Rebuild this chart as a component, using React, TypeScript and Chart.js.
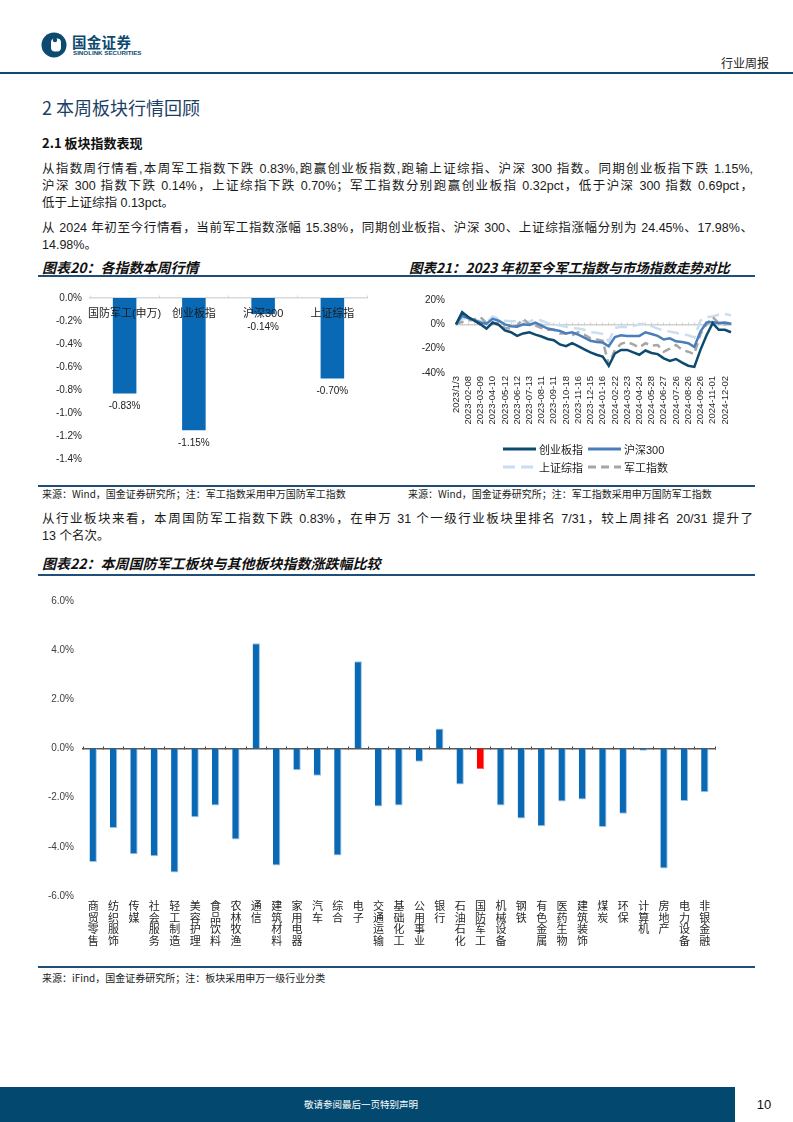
import React, { useEffect, useRef } from 'react';
import { Chart, registerables } from 'chart.js';

Chart.register(...registerables);

// ---------- data: 图表20 ----------
const weeklyIndexNames = ['国防军工(申万)', '创业板指', '沪深300', '上证综指'];
const weeklyIndexChanges = [-0.83, -1.15, -0.14, -0.7];

// ---------- data: 图表21 ----------
const trendTickLabels = [
  '2023/1/3', '2023-02-08', '2023-03-09', '2023-04-10', '2023-05-12', '2023-06-12',
  '2023-07-13', '2023-08-11', '2023-09-11', '2023-10-18', '2023-11-16', '2023-12-15',
  '2024-01-16', '2024-02-22', '2024-03-23', '2024-04-24', '2024-05-28', '2024-06-27',
  '2024-07-26', '2024-08-26', '2024-09-26', '2024-11-01', '2024-12-02',
];
const chinextTrend = [
  0, 10, 6, 3, 0, -3.5, 1.5, -0.5, -5, -6.5, -9.5, -7.5, -6.5, -8.5, -10, -12, -13, -16.5,
  -18, -15.5, -18, -20.5, -23, -25, -26.5, -34, -24, -21, -21, -23, -25, -21.5, -23.5, -24.5,
  -28, -30, -28.5, -31.5, -34, -35, -21, -9, 1, -4.5, -4.5, -6.5,
];
const csi300Trend = [
  0, 7, 5, 3.5, 1.5, 0.5, 4.5, 3, 0, -1.5, -2, 0, -0.5, 1.5, -1, -3.5, -4.5, -5.5, -7.5,
  -6.5, -8.5, -11, -13.5, -14.5, -15, -18, -10.5, -9, -9.5, -9.5, -9.5, -6.5, -8, -9.5,
  -12.5, -11.5, -14, -14.5, -15.5, -18.5, -6, 1.5, 2, 1, 1.5, 0.5,
];
const shCompositeTrend = [
  0, 5, 4.5, 3.5, 2.5, 1.5, 6.5, 4.5, 3, 2.5, 2.5, 2.5, 2, 4.5, 3, 1, 0, -1, -2, -3, -3.5,
  -4.5, -6.5, -7, -8, -14, -3, -2, -2.5, -1.5, 0, 0.5, -1.5, -3.5, -5, -6, -7, -8, -9, -11,
  3, 6, 6.5, 8, 8.5, 7.5,
];
const defenseTrend = [
  0, 2, 3, 4, 6, 1, 0.5, 1.5, -3, -3.5, -1, 4.5, 0, -1, -3, -4.5, -4.5, -7.5, -7.5, -9,
  -6.5, -8.5, -11.5, -12.5, -13.5, -33, -21, -16, -14.5, -16.5, -19, -15.5, -17.5, -17,
  -22.5, -20, -17, -21, -22.5, -24.5, -8, 0, 6, 1, 0, 0.5,
];
const trendSeriesNames = ['创业板指', '沪深300', '上证综指', '军工指数'];

// ---------- data: 图表22 ----------
const industryNames = [
  '商贸零售', '纺织服饰', '传媒', '社会服务', '轻工制造', '美容护理', '食品饮料', '农林牧渔',
  '通信', '建筑材料', '家用电器', '汽车', '综合', '电子', '交通运输', '基础化工', '公用事业',
  '银行', '石油石化', '国防军工', '机械设备', '钢铁', '有色金属', '医药生物', '建筑装饰',
  '煤炭', '环保', '计算机', '房地产', '电力设备', '非银金融',
];
const industryChanges = [
  -4.62, -3.23, -4.3, -4.38, -5.04, -2.8, -2.32, -3.7, 4.28, -4.76, -0.88, -1.11, -4.35, 3.55,
  -2.36, -2.32, -0.54, 0.81, -1.46, -0.83, -2.32, -2.85, -3.16, -2.16, -2.07, -3.19, -2.65,
  -0.09, -4.88, -2.14, -1.78,
];
const highlightIndustry = '国防军工';

// ---------- styles ----------
const SANS = '"Liberation Sans", Arial, "Noto Sans CJK SC", sans-serif';
const CJK = '"Noto Sans CJK SC", "Liberation Sans", sans-serif';
const NAVY = '#0D4A70';
const BAR_BLUE = '#0A69B5';

function ChartBox(props: { left: number; top: number; width: number; height: number; build: () => any }) {
  const ref = useRef<HTMLCanvasElement>(null);
  useEffect(() => {
    const chart = new Chart(ref.current as HTMLCanvasElement, props.build());
    return () => chart.destroy();
  }, []);
  return (
    <canvas
      ref={ref}
      width={props.width}
      height={props.height}
      style={{ position: 'absolute', left: props.left, top: props.top, width: props.width, height: props.height }}
    />
  );
}

const valueLabelPlugin = {
  id: 'valueLabels',
  afterDatasetsDraw(chart: any) {
    const { ctx } = chart;
    const meta = chart.getDatasetMeta(0);
    const data = chart.data.datasets[0].data as number[];
    ctx.save();
    ctx.font = `10px ${SANS}`;
    ctx.fillStyle = '#1a1a1a';
    ctx.textAlign = 'center';
    ctx.textBaseline = 'middle';
    meta.data.forEach((el: any, i: number) => {
      ctx.fillText(data[i].toFixed(2) + '%', el.x, el.y + 13);
    });
    ctx.restore();
  },
};

function buildWeekly() {
  return {
    type: 'bar',
    data: {
      labels: weeklyIndexNames,
      datasets: [
        { data: weeklyIndexChanges, backgroundColor: BAR_BLUE, barPercentage: 0.34, categoryPercentage: 1 },
      ],
    },
    options: {
      responsive: false,
      animation: false,
      devicePixelRatio: 1,
      layout: { padding: { top: 15, bottom: 10, right: 11, left: 0 } },
      plugins: { legend: { display: false }, tooltip: { enabled: false } },
      scales: {
        x: {
          position: { y: 0 },
          grid: { display: false, drawTicks: false },
          border: { display: false },
          ticks: { z: 2, padding: 9, color: '#1a1a1a', font: { family: SANS, size: 11 }, autoSkip: false, maxRotation: 0, minRotation: 0 },
        },
        x2: {
          axis: 'x',
          type: 'category',
          labels: weeklyIndexNames,
          position: { y: 0 },
          offset: true,
          grid: { offset: true, drawOnChartArea: false, color: '#D9D9D9', tickLength: -3 },
          border: { color: '#D9D9D9', width: 1.5 },
          ticks: { display: false },
        },
        y: {
          min: -1.4,
          max: 0,
          ticks: {
            stepSize: 0.2,
            callback: (v: any) => Number(v).toFixed(1) + '%',
            font: { family: SANS, size: 10 },
            color: '#262626',
            padding: 8,
          },
          grid: { display: false, drawTicks: false },
          border: { display: false },
          afterFit: (s: any) => { s.width = 52; },
        },
      },
    },
    plugins: [valueLabelPlugin],
  };
}

function buildTrend() {
  const labels = chinextTrend.map((_, i) => (i % 2 === 0 ? trendTickLabels[i / 2] : ''));
  const line = (label: string, data: number[], color: string, dash: number[]) => ({
    label,
    data,
    borderColor: color,
    backgroundColor: color,
    borderWidth: 2.5,
    borderDash: dash,
    pointRadius: 0,
    tension: 0,
    fill: false,
  });
  return {
    type: 'line',
    data: {
      labels,
      datasets: [
        line(trendSeriesNames[0], chinextTrend, NAVY, []),
        line(trendSeriesNames[1], csi300Trend, '#4A7EBB', []),
        line(trendSeriesNames[3], defenseTrend, '#A6A6A6', [8, 5]),
        line(trendSeriesNames[2], shCompositeTrend, '#C9DEF1', [12, 6]),
      ],
    },
    options: {
      responsive: false,
      animation: false,
      devicePixelRatio: 1,
      layout: { padding: { top: 10, right: 24, bottom: 0, left: 0 } },
      plugins: { legend: { display: false }, tooltip: { enabled: false } },
      scales: {
        x: {
          grid: { display: false, drawTicks: false },
          border: { display: false },
          ticks: {
            autoSkip: false,
            maxRotation: 90,
            minRotation: 90,
            padding: 3,
            font: { family: SANS, size: 9.5 },
            color: '#262626',
          },
          afterFit: (s: any) => { s.height = 70; },
        },
        x2: {
          axis: 'x',
          type: 'category',
          labels,
          position: { y: 0 },
          offset: false,
          grid: { offset: false, drawOnChartArea: false, color: '#D0D0D0', tickLength: -3 },
          border: { color: '#D0D0D0', width: 1.5 },
          ticks: { display: false },
        },
        y: {
          min: -40,
          max: 20,
          ticks: {
            stepSize: 10,
            callback: (v: any) => v + '%',
            font: { family: SANS, size: 10 },
            color: '#262626',
            padding: 11,
          },
          grid: { display: false, drawTicks: false },
          border: { display: false },
          afterFit: (s: any) => { s.width = 51; },
        },
      },
    },
  };
}

function buildIndustry() {
  return {
    type: 'bar',
    data: {
      labels: industryNames.map((n) => n.split('')),
      datasets: [
        {
          data: industryChanges,
          backgroundColor: industryNames.map((n) => (n === highlightIndustry ? '#FF0000' : BAR_BLUE)),
          borderColor: industryNames.map((n) => (n === highlightIndustry ? '#FF6060' : '#9CC3E5')),
          borderWidth: { top: 1, right: 1, bottom: 1, left: 0 },
          barPercentage: 0.36,
          categoryPercentage: 1,
        },
      ],
    },
    options: {
      responsive: false,
      animation: false,
      devicePixelRatio: 1,
      layout: { padding: { top: 16, right: 15, bottom: 0, left: 0 } },
      plugins: { legend: { display: false }, tooltip: { enabled: false } },
      scales: {
        x: {
          grid: { display: false, drawTicks: false },
          border: { display: false },
          ticks: {
            autoSkip: false,
            maxRotation: 0,
            minRotation: 0,
            padding: 4,
            font: { family: CJK, size: 11, lineHeight: 1.05 },
            color: '#262626',
          },
          afterFit: (s: any) => { s.height = 59; },
        },
        x2: {
          axis: 'x',
          type: 'category',
          labels: industryNames,
          position: { y: 0 },
          offset: true,
          grid: { offset: true, drawOnChartArea: false, color: '#404040', tickLength: -3 },
          border: { color: '#595959', width: 1.5 },
          ticks: { display: false },
        },
        y: {
          min: -6,
          max: 6,
          ticks: {
            stepSize: 2,
            callback: (v: any) => Number(v).toFixed(1) + '%',
            font: { family: SANS, size: 10 },
            color: '#404040',
            padding: 9,
          },
          grid: { display: false, drawTicks: false },
          border: { display: false },
          afterFit: (s: any) => { s.width = 43; },
        },
      },
    },
  };
}

const abs = (left: number, top: number, extra: any = {}) => ({ position: 'absolute' as const, left, top, ...extra });

function Line(props: { text: string; top: number; last?: boolean }) {
  return (
    <div
      style={abs(42, props.top, {
        width: 711,
        fontSize: 12.5,
        lineHeight: '17px',
        fontFamily: SANS,
        color: '#1a1a1a',
        textAlign: props.last ? 'left' : 'justify',
        textAlignLast: props.last ? 'left' : 'justify',
      })}
    >
      {props.text}
    </div>
  );
}

function Rule(props: { top: number; left?: number; width?: number; h?: number; color?: string }) {
  return (
    <div
      style={abs(props.left ?? 38, props.top, {
        width: props.width ?? 717,
        height: props.h ?? 2,
        background: props.color ?? '#1F4E79',
      })}
    />
  );
}

function LegendItem(props: { left: number; top: number; color: string; dash?: string; label: string }) {
  return (
    <div style={abs(props.left, props.top, { display: 'flex', alignItems: 'center', height: 16 })}>
      <svg width={33} height={6} style={{ display: 'block' }}>
        <line x1={0} y1={3} x2={33} y2={3} stroke={props.color} strokeWidth={3} strokeDasharray={props.dash} />
      </svg>
      <span style={{ marginLeft: 3, fontFamily: SANS, fontSize: 11, color: '#1a1a1a', whiteSpace: 'nowrap' }}>{props.label}</span>
    </div>
  );
}

export default function App() {
  const titleStyle = { fontFamily: CJK, fontSize: 14, fontWeight: 700, fontStyle: 'italic', color: '#111', lineHeight: '18px', whiteSpace: 'nowrap' as const };
  const srcStyle = { fontFamily: CJK, fontSize: 10, color: '#222', lineHeight: '14px', whiteSpace: 'nowrap' as const };
  return (
    <div style={{ position: 'absolute', left: 0, top: 0, width: 793, height: 1122, background: '#fff', overflow: 'hidden' }}>
      {/* header */}
      <svg width={26} height={26} style={abs(41, 32)}>
        <circle cx={13} cy={13} r={12.5} fill={NAVY} />
        <rect x={10} y={6.5} width={10} height={13} rx={4} fill="#fff" />
        <circle cx={14} cy={8} r={2.2} fill={NAVY} />
      </svg>
      <div style={abs(72, 33, { fontFamily: CJK, fontSize: 14.5, fontWeight: 700, color: NAVY, lineHeight: '17px', letterSpacing: 0.3 })}>国金证券</div>
      <div style={abs(73, 49, { fontFamily: SANS, fontSize: 6.2, fontWeight: 700, color: NAVY, lineHeight: '8px', whiteSpace: 'nowrap' })}>SINOLINK SECURITIES</div>
      <div style={abs(721, 55, { fontFamily: CJK, fontSize: 12, color: '#222', lineHeight: '16px' })}>行业周报</div>
      <Rule top={72} left={0} width={793} h={2} color={NAVY} />

      <div style={abs(42, 95, { fontFamily: CJK, fontSize: 18, color: '#1B3F66', lineHeight: '24px', whiteSpace: 'nowrap' })}>2 本周板块行情回顾</div>
      <div style={abs(42, 134, { fontFamily: CJK, fontSize: 13, fontWeight: 700, color: '#111', lineHeight: '18px', whiteSpace: 'nowrap' })}>2.1 板块指数表现</div>

      <Line top={161} text="从指数周行情看,本周军工指数下跌 0.83%,跑赢创业板指数,跑输上证综指、沪深 300 指数。同期创业板指下跌 1.15%," />
      <Line top={178} text="沪深 300 指数下跌 0.14%，上证综指下跌 0.70%；军工指数分别跑赢创业板指 0.32pct，低于沪深 300 指数 0.69pct，" />
      <Line top={195} last text="低于上证综指 0.13pct。" />
      <Line top={220} text="从 2024 年初至今行情看，当前军工指数涨幅 15.38%，同期创业板指、沪深 300、上证综指涨幅分别为 24.45%、17.98%、" />
      <Line top={237} last text="14.98%。" />

      {/* charts 20 / 21 */}
      <div style={abs(42, 258, titleStyle)}>图表20：各指数本周行情</div>
      <div style={abs(409, 258, { ...titleStyle, fontSize: 13.5 })}>图表21：2023 年初至今军工指数与市场指数走势对比</div>
      <Rule top={275} />
      <ChartBox left={38} top={283} width={340} height={190} build={buildWeekly} />
      <ChartBox left={405} top={283} width={350} height={160} build={buildTrend} />
      <LegendItem left={503} top={441} color={NAVY} label={trendSeriesNames[0]} />
      <LegendItem left={588} top={441} color="#4A7EBB" label={trendSeriesNames[1]} />
      <LegendItem left={503} top={459} color="#C9DEF1" dash="12 6" label={trendSeriesNames[2]} />
      <LegendItem left={588} top={459} color="#A6A6A6" dash="8 5" label={trendSeriesNames[3]} />
      <Rule top={485} />
      <div style={abs(42, 487, srcStyle)}>来源：Wind，国金证券研究所；注：军工指数采用申万国防军工指数</div>
      <div style={abs(408, 487, srcStyle)}>来源：Wind，国金证券研究所；注：军工指数采用申万国防军工指数</div>

      <Line top={511} text="从行业板块来看，本周国防军工指数下跌 0.83%，在申万 31 个一级行业板块里排名 7/31，较上周排名 20/31 提升了" />
      <Line top={528} last text="13 个名次。" />

      {/* chart 22 */}
      <div style={abs(42, 554, titleStyle)}>图表22：本周国防军工板块与其他板块指数涨跌幅比较</div>
      <Rule top={574} />
      <ChartBox left={40} top={585} width={690} height={370} build={buildIndustry} />
      <Rule top={966} />
      <div style={abs(42, 971, srcStyle)}>来源：iFind，国金证券研究所；注：板块采用申万一级行业分类</div>

      {/* footer */}
      <div style={abs(0, 1087, { width: 735, height: 35, background: '#03496F' })} />
      <div style={abs(0, 1097, { width: 722, textAlign: 'center', fontFamily: CJK, fontSize: 9.5, color: '#fff', lineHeight: '14px' })}>敬请参阅最后一页特别声明</div>
      <div style={abs(735, 1096, { width: 58, textAlign: 'center', fontFamily: SANS, fontSize: 13, color: '#111', lineHeight: '18px' })}>10</div>
    </div>
  );
}
